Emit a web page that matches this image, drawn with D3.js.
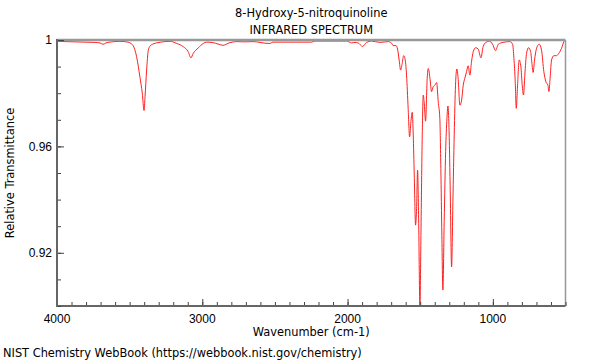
<!DOCTYPE html>
<html>
<head>
<meta charset="utf-8">
<script src="https://cdn.jsdelivr.net/npm/d3@7"></script>
<style>
    body { margin: 0; background: #fff; }
    svg { display: block; font-family: "DejaVu Sans", sans-serif; }
</style>
</head>
<body>
<div id="chart"></div>
<script>
// Spectrum (wavenumber in cm-1, relative transmittance)
const wavenumbers = [
    4000, 3945, 3876, 3807, 3739, 3704, 3683, 3663, 3622, 3566, 3511, 3486, 3477, 3452, 3429,
    3413, 3401, 3394, 3383, 3372, 3360, 3339, 3305, 3257, 3222, 3176, 3131, 3097, 3078, 3062,
    3028, 2993, 2970, 2927, 2892, 2858, 2810, 2763, 2706, 2651, 2603, 2569, 2534, 2514, 2397,
    2247, 2225, 2121, 2007, 1972, 1949, 1927, 1897, 1869, 1835, 1777, 1720, 1697, 1686, 1667,
    1656, 1645, 1635, 1624, 1614, 1605, 1594, 1583, 1573, 1564, 1555, 1548, 1541, 1532, 1525,
    1518, 1511, 1502, 1495, 1486, 1479, 1473, 1463, 1452, 1444, 1433, 1422, 1411, 1399, 1387,
    1376, 1365, 1358, 1351, 1344, 1335, 1325, 1316, 1309, 1303, 1294, 1284, 1275, 1266, 1257,
    1248, 1239, 1227, 1215, 1204, 1193, 1181, 1170, 1158, 1147, 1135, 1119, 1101, 1082, 1067,
    1048, 1025, 1002, 981, 963, 929, 883, 864, 855, 846, 839, 830, 819, 807, 798,
    789, 780, 768, 754, 740, 731, 723, 713, 699, 681, 665, 649, 635, 621, 614,
    606, 596, 580, 562, 546, 527, 511, 502
];
const transmittance = [
    0.9995, 0.9994, 0.9993, 0.9992, 0.9991, 0.9989, 0.9984, 0.9989, 0.9993, 0.9995, 0.9992, 0.9985, 0.998, 0.9937, 0.986,
    0.980, 0.9735, 0.9787, 0.9887, 0.996, 0.9977, 0.9985, 0.999, 0.9994, 0.9995, 0.9987, 0.9975, 0.9956, 0.9933, 0.995,
    0.997, 0.9987, 0.9992, 0.999, 0.9985, 0.998, 0.999, 0.9994, 0.9993, 0.9994, 0.9991, 0.9988, 0.9987, 0.9992, 0.9992,
    0.9992, 0.9996, 0.9996, 0.9996, 0.9989, 0.9991, 0.9989, 0.9976, 0.9991, 0.9996, 0.9991, 0.9994, 0.9988, 0.9979, 0.9979,
    0.9966, 0.9925, 0.9887, 0.9912, 0.9941, 0.9931, 0.9868, 0.9743, 0.9636, 0.9693, 0.9728, 0.9643, 0.9492, 0.9304, 0.9367,
    0.9511, 0.933, 0.8997, 0.9266, 0.9643, 0.9793, 0.9768, 0.9695, 0.9856, 0.9893, 0.9856, 0.9806, 0.9824, 0.983, 0.984,
    0.9768, 0.9705, 0.9517, 0.9266, 0.906, 0.9317, 0.958, 0.9705, 0.9752, 0.9693, 0.9454, 0.9147, 0.9392, 0.9643, 0.983,
    0.9891, 0.9856, 0.9755, 0.9774, 0.983, 0.9856, 0.9881, 0.9903, 0.9868, 0.9918, 0.9956, 0.9971, 0.9966, 0.9933, 0.9975,
    0.9991, 0.9996, 0.9984, 0.996, 0.9984, 0.9991, 0.9994, 0.9984, 0.9931, 0.9843, 0.9743, 0.983, 0.9925, 0.99, 0.983,
    0.9793, 0.9868, 0.995, 0.9971, 0.9956, 0.9912, 0.9878, 0.9925, 0.9969, 0.9984, 0.9962, 0.9881, 0.9843, 0.983, 0.9806,
    0.9856, 0.9925, 0.9941, 0.9941, 0.995, 0.9969, 0.9994, 1.0
];
const xTickValues = [4000, 3000, 2000, 1000];
const yTickValues = [1, 0.96, 0.92];
const titleLines = ['8-Hydroxy-5-nitroquinoline', 'INFRARED SPECTRUM'];

const width = 600;
const height = 360;
const margin = { top: 40, right: 34.5, bottom: 54, left: 57 };
const labelSize = 11.4;

const svg = d3.select('#chart').append('svg')
    .attr('width', width)
    .attr('height', height);

const x = d3.scaleLinear()
    .domain([4000, 500])
    .range([margin.left, width - margin.right]);

const y = d3.scaleLinear()
    .domain([0.9, 1])
    .range([height - margin.bottom, margin.top]);

svg.append('clipPath').attr('id', 'plot-clip')
    .append('rect')
    .attr('x', margin.left)
    .attr('y', margin.top)
    .attr('width', x.range()[1] - margin.left)
    .attr('height', y.range()[0] - margin.top);

const points = wavenumbers.map((w, i) => ({ w, t: transmittance[i] }));

const line = d3.line()
    .x(d => x(d.w))
    .y(d => y(d.t))
    .curve(d3.curveMonotoneX);

svg.append('path')
    .datum(points)
    .attr('clip-path', 'url(#plot-clip)')
    .attr('fill', 'none')
    .attr('stroke', '#ff2020')
    .attr('stroke-width', 1)
    .attr('d', line);

// frame: gray top and right
const x0 = x.range()[0], x1 = x.range()[1];
const y0 = y.range()[0], y1 = y.range()[1];
svg.append('line')
    .attr('x1', x0).attr('x2', x1).attr('y1', y1).attr('y2', y1)
    .attr('stroke', '#999').attr('stroke-width', 2.5);
svg.append('line')
    .attr('x1', x1).attr('x2', x1).attr('y1', y1).attr('y2', y0)
    .attr('stroke', '#999').attr('stroke-width', 1.5);

// bottom axis, ticks pointing inward
const xMinor = d3.range(4000, 499, -100);
const gx = svg.append('g').attr('transform', `translate(0,${y0})`);
gx.call(d3.axisTop(x).tickValues(xMinor).tickSize(4).tickFormat(''))
    .call(g => g.select('.domain').remove());
gx.call(g => g.append('g')
    .call(d3.axisTop(x).tickValues(xTickValues).tickSize(7).tickFormat(''))
    .call(a => a.select('.domain').remove()));
gx.selectAll('line').attr('stroke', '#444');
gx.append('line')
    .attr('x1', x0 - 1).attr('x2', x1).attr('y1', 0).attr('y2', 0)
    .attr('stroke', '#666').attr('stroke-width', 2);
gx.selectAll('.xlabel')
    .data(xTickValues)
    .enter().append('text')
    .attr('class', 'xlabel')
    .attr('x', d => x(d))
    .attr('y', 17)
    .attr('text-anchor', 'middle')
    .attr('font-size', 12)
    .attr('fill', '#000')
    .text(d => d);

// left axis, ticks pointing inward
const yMinor = d3.range(0.9, 1.0001, 0.01);
const gy = svg.append('g').attr('transform', `translate(${x0},0)`);
gy.call(d3.axisRight(y).tickValues(yMinor).tickSize(4).tickFormat(''))
    .call(g => g.select('.domain').remove());
gy.call(g => g.append('g')
    .call(d3.axisRight(y).tickValues(yTickValues).tickSize(7).tickFormat(''))
    .call(a => a.select('.domain').remove()));
gy.selectAll('line').attr('stroke', '#444');
gy.append('line')
    .attr('x1', 0).attr('x2', 0).attr('y1', y1 - 1).attr('y2', y0 + 1)
    .attr('stroke', '#666').attr('stroke-width', 2);
gy.selectAll('.ylabel')
    .data(yTickValues)
    .enter().append('text')
    .attr('class', 'ylabel')
    .attr('x', -5)
    .attr('y', d => y(d))
    .attr('dy', '0.35em')
    .attr('text-anchor', 'end')
    .attr('font-size', 12)
    .attr('fill', '#000')
    .text(d => d);

// titles and labels
svg.selectAll('.title')
    .data(titleLines)
    .enter().append('text')
    .attr('class', 'title')
    .attr('x', (x0 + x1) / 2)
    .attr('y', (d, i) => 17 + i * 17)
    .attr('text-anchor', 'middle')
    .attr('font-size', labelSize)
    .text(d => d);

svg.append('text')
    .attr('x', (x0 + x1) / 2)
    .attr('y', 336)
    .attr('text-anchor', 'middle')
    .attr('font-size', labelSize)
    .text('Wavenumber (cm-1)');

svg.append('text')
    .attr('transform', `translate(14,${(y0 + y1) / 2}) rotate(-90)`)
    .attr('text-anchor', 'middle')
    .attr('font-size', labelSize)
    .text('Relative Transmittance');

svg.append('text')
    .attr('x', 3)
    .attr('y', 357)
    .attr('font-size', labelSize)
    .text('NIST Chemistry WebBook (https://webbook.nist.gov/chemistry)');
</script>
</body>
</html>
